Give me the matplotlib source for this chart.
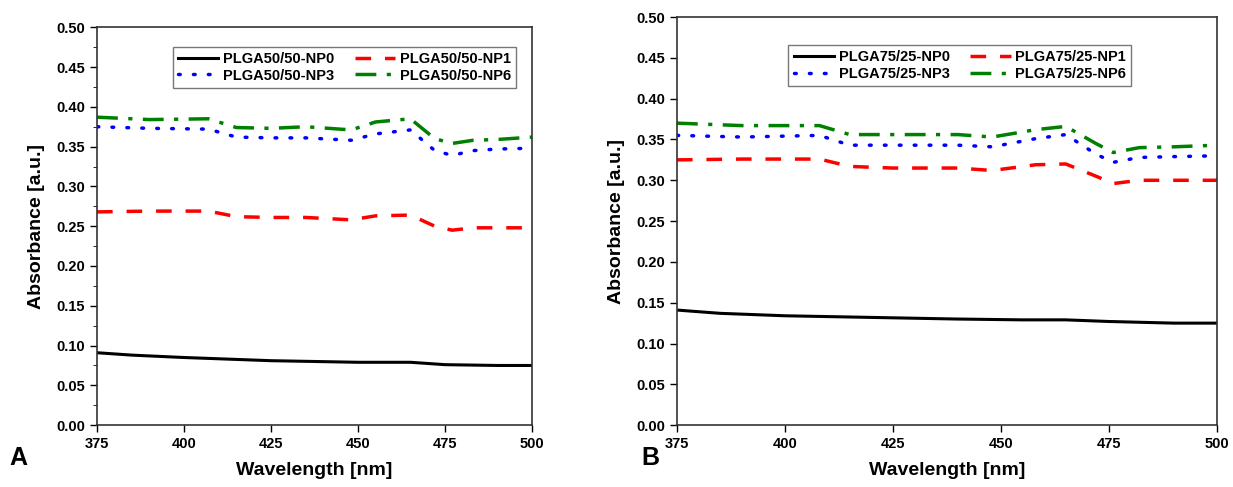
import matplotlib
matplotlib.use("Agg")
import matplotlib.pyplot as plt
from matplotlib.ticker import MultipleLocator

plt.rcParams['font.family'] = ['Liberation Sans', 'DejaVu Sans']
plt.rcParams['font.weight'] = 'bold'

# Panel A - PLGA50/50
wl_a0 = [375, 385, 400, 425, 450, 465, 475, 490, 500]
np0_a = [0.091, 0.088, 0.085, 0.081, 0.079, 0.079, 0.076, 0.075, 0.075]
wl_a = [375, 390, 407, 415, 425, 435, 448, 455, 465, 472, 477, 483, 490, 500]
np1_a = [0.268, 0.269, 0.269, 0.262, 0.261, 0.261, 0.258, 0.263, 0.264, 0.250, 0.245, 0.248, 0.248, 0.248]
np3_a = [0.375, 0.373, 0.372, 0.362, 0.361, 0.361, 0.358, 0.366, 0.371, 0.345, 0.339, 0.345, 0.347, 0.348]
np6_a = [0.387, 0.384, 0.385, 0.374, 0.373, 0.375, 0.371, 0.381, 0.385, 0.360, 0.354, 0.358, 0.359, 0.362]

# Panel B - PLGA75/25
wl_b0 = [375, 385, 400, 420, 440, 455, 465, 475, 490, 500]
np0_b = [0.141, 0.137, 0.134, 0.132, 0.130, 0.129, 0.129, 0.127, 0.125, 0.125]
wl_b = [375, 390, 408, 415, 425, 440, 448, 458, 465, 472, 476, 482, 490, 500]
np1_b = [0.325, 0.326, 0.326, 0.317, 0.315, 0.315, 0.312, 0.319, 0.320, 0.305, 0.296, 0.300, 0.300, 0.300]
np3_b = [0.355, 0.353, 0.355, 0.343, 0.343, 0.343, 0.341, 0.351, 0.356, 0.332, 0.322, 0.328, 0.329, 0.330]
np6_b = [0.370, 0.367, 0.367, 0.356, 0.356, 0.356, 0.353, 0.362, 0.366, 0.345, 0.334, 0.340, 0.341, 0.343]

fig = plt.figure(figsize=(12.33, 4.87), dpi=100)
ax_a = fig.add_axes([0.0787, 0.127, 0.353, 0.817])
ax_b = fig.add_axes([0.549, 0.127, 0.438, 0.838])


def draw(ax, prefix, wl0, y0, wl, y1, y3, y6, minor, leg_anchor):
    l0, = ax.plot(wl0, y0, color='black', lw=2.2, label=prefix + '-NP0')
    l1, = ax.plot(wl, y1, color='red', lw=2.5, dashes=(4.5, 4), label=prefix + '-NP1')
    l3, = ax.plot(wl, y3, color='blue', lw=2.5, dashes=(0.5, 3.8), dash_capstyle='round', label=prefix + '-NP3')
    l6, = ax.plot(wl, y6, color='green', lw=2.5, dashes=(6, 3, 1.2, 3), label=prefix + '-NP6')
    ax.set_xlim(375, 500)
    ax.set_ylim(0, 0.5)
    ax.set_xticks([375, 400, 425, 450, 475, 500])
    ax.yaxis.set_major_locator(MultipleLocator(0.05))
    ax.yaxis.set_major_formatter(plt.FormatStrFormatter('%.2f'))
    if minor:
        ax.yaxis.set_minor_locator(MultipleLocator(0.025))
    ax.tick_params(direction='out', labelsize=10.5, length=5, width=1)
    ax.tick_params(which='minor', direction='out', length=3)
    for lab in ax.get_xticklabels() + ax.get_yticklabels():
        lab.set_fontweight('bold')
    for s in ax.spines.values():
        s.set_linewidth(1.2)
        s.set_color('#333333')
    ax.set_xlabel('Wavelength [nm]', fontsize=14, fontweight='bold', labelpad=8)
    ax.set_ylabel('Absorbance [a.u.]', fontsize=14, fontweight='bold', labelpad=8)
    # order so the legend reads row by row: NP0 NP1 / NP3 NP6
    handles = [l0, l3, l1, l6]
    leg = ax.legend(handles, [h.get_label() for h in handles], loc='upper center', ncol=2,
                    fontsize=10.5, frameon=True, fancybox=False, handlelength=2.8,
                    columnspacing=1.4, borderpad=0.35, labelspacing=0.2, handletextpad=0.3,
                    bbox_to_anchor=leg_anchor)
    leg.get_frame().set_edgecolor('#555555')
    leg.get_frame().set_linewidth(1)
    for t in leg.get_texts():
        t.set_fontweight('bold')


draw(ax_a, 'PLGA50/50', wl_a0, np0_a, wl_a, np1_a, np3_a, np6_a, True, (0.568, 0.97))
draw(ax_b, 'PLGA75/25', wl_b0, np0_b, wl_b, np1_b, np3_b, np6_b, False, (0.524, 0.95))

fig.text(0.008, 0.045, 'A', fontsize=18, fontweight='bold')
fig.text(0.52, 0.045, 'B', fontsize=18, fontweight='bold')

fig.savefig('out.png', dpi=100)
